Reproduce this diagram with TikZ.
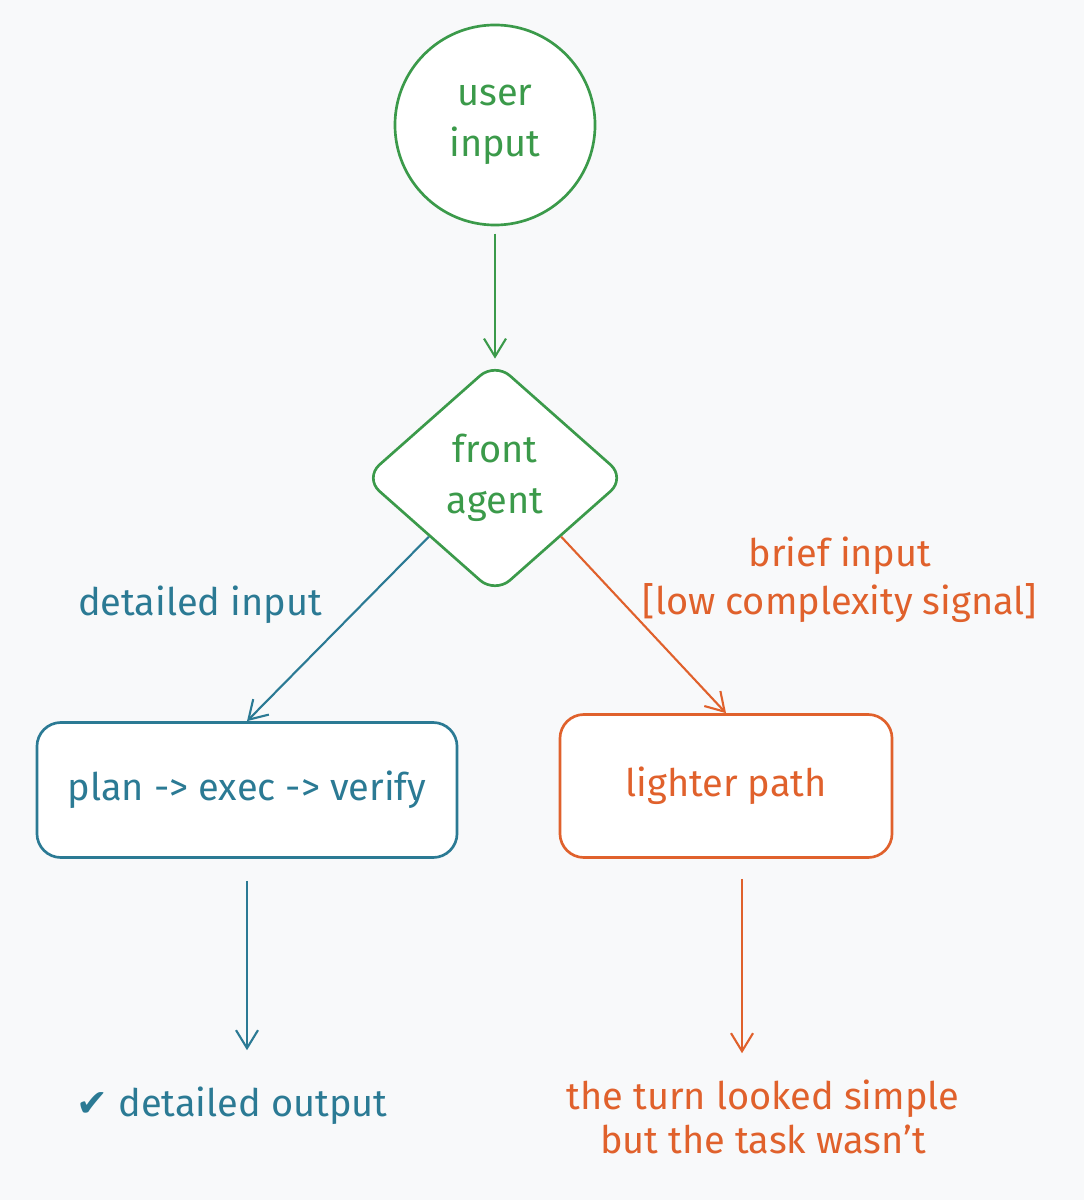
\documentclass[tikz,border=0pt]{standalone}
\usepackage{fontspec}
\setmainfont{Fira Sans}
\newfontfamily\symfont{DejaVu Sans}
\usetikzlibrary{shapes.geometric,arrows.meta}
\definecolor{flowgreen}{HTML}{3B9A4A}
\definecolor{flowblue}{HTML}{2B7A94}
\definecolor{floworange}{HTML}{E0612C}
\definecolor{paper}{HTML}{F8F9FA}
\begin{document}
\begin{tikzpicture}[x=0.025cm,y=-0.025cm,
    every node/.style={font=\fontsize{27}{36}\selectfont},
    plain/.style={draw,fill=white,line width=1.9pt,align=center},
    box/.style={plain,rounded corners=0.6cm},
    flow/.style={->,>={Straight Barb[length=0.45cm,width=0.55cm]},line width=1.5pt}]
        \fill[paper] (0,0) rectangle (1084,1200);
        \node[plain,circle,draw=flowgreen,text=flowgreen,minimum size=5cm] (user) at (495,125) {user\\input};
        \node[plain,diamond,draw=flowgreen,text=flowgreen,minimum width=6.55cm,minimum height=5.8cm,rounded corners=0.5cm] (front) at (495,478) {front\\agent};
        \node[box,draw=flowblue,text=flowblue,minimum width=10.5cm,minimum height=3.375cm] (plan) at (247,790) {plan -> exec -> verify};
        \node[box,draw=floworange,text=floworange,minimum width=8.3cm,minimum height=3.575cm] (light) at (726,786) {lighter path};
        \node[text=flowblue] (detail) at (200,605) {detailed input};
        \node[text=floworange,align=center,font=\fontsize{27}{34}\selectfont] (brief) at (840,580) {brief input\\{}[low complexity signal]};
        \node[text=flowblue] (done) at (232,1106) {{\symfont ✔} detailed output};
        \node[text=floworange,align=center,font=\fontsize{27}{31}\selectfont] (turn) at (763,1117) {the turn looked simple\\but the task wasn't};
        \draw[flow,draw=flowgreen,shorten <=0.18cm,shorten >=0.05cm] (user) -- (front);
        \draw[flow,draw=flowblue] (front.south west) -- (plan.north);
        \draw[flow,draw=floworange] (front.south east) -- (light.north);
        \draw[flow,draw=flowblue,shorten <=0.55cm,shorten >=0.8cm] (plan.south) -- (plan.south |- done.north);
        \draw[flow,draw=floworange,shorten <=0.5cm,shorten >=0.55cm] ([xshift=0.4cm]light.south) -- ([xshift=0.4cm]light.south |- turn.north);
    \end{tikzpicture}
\end{document}
